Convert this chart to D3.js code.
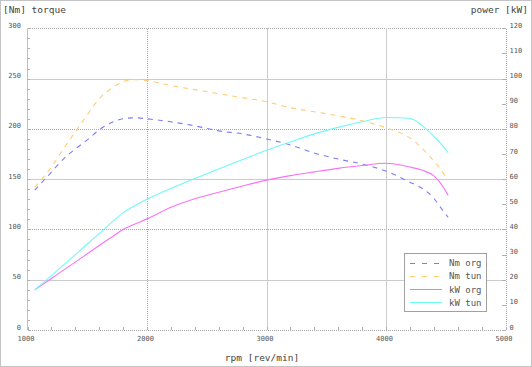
<!DOCTYPE html>
<html><head><meta charset="utf-8">
<script src="https://cdn.jsdelivr.net/npm/d3@7"></script>
<style>
html,body{margin:0;padding:0;background:#fff;}
svg{display:block;}
text{font-family:"DejaVu Sans Mono",monospace;}
</style></head>
<body><svg id="c" width="532" height="367"></svg>
<script>
// ---- data ----
const rpm    = [1060,1200,1300,1400,1500,1600,1700,1800,1900,2000,2200,2400,2600,2800,3000,3200,3400,3600,3800,4000,4200,4300,4400,4450,4520];
const nmOrg  = [139,157,170,180,189,199,206,210,211,210,207,203,198,195,190,184,176,170,165,158,147,141,131,123,112];
const nmTun  = [142,162,180,197,214,230,240,247,249,248,243,239,235,231,227,221,217,213,208,201,191,181,168,161,149];
const kwOrg  = [15.9,20.5,23.8,27.0,30.3,33.6,36.8,40.0,42.2,44.2,48.8,52.2,54.8,57.3,59.6,61.4,62.9,64.3,65.4,66.3,64.8,63.6,61.3,58.8,53.6];
const kwTun  = [15.9,21.6,25.8,29.9,34.2,38.3,42.6,46.6,49.5,52.0,56.3,60.3,64.0,67.8,71.5,74.8,78.0,80.6,82.8,84.5,84.2,81.4,77.0,74.6,70.5];
const xTicks = [1000,2000,3000,4000,5000];
const yLTicks = [0,50,100,150,200,250,300];
const yRTicks = [0,10,20,30,40,50,60,70,80,90,100,110,120];
const seriesNames = ["Nm org","Nm tun","kW org","kW tun"];

const svg = d3.select("#c");
const x  = d3.scaleLinear().domain([1000,5000]).range([27.5,505.5]);
const yL = d3.scaleLinear().domain([0,300]).range([330,28.3]);
const yR = d3.scaleLinear().domain([0,120]).range([330,28.3]);

// outer border
svg.append("rect").attr("x",0.5).attr("y",0.5).attr("width",531).attr("height",366)
  .attr("fill","#fff").attr("stroke","#c4c4c4");

const g = svg.append("g").attr("shape-rendering","crispEdges");
// horizontal grid
const solidH = [50,150,250];
const dottedH = [0,100,200,300];
g.selectAll(".hs").data(solidH).join("line")
  .attr("x1",x(1000)).attr("x2",x(5000)).attr("y1",d=>Math.round(yL(d))+0.5).attr("y2",d=>Math.round(yL(d))+0.5)
  .attr("stroke","#cccccc");
g.selectAll(".hd").data(dottedH).join("line")
  .attr("x1",x(1000)).attr("x2",x(5000)).attr("y1",d=>Math.round(yL(d))+0.5).attr("y2",d=>Math.round(yL(d))+0.5)
  .attr("stroke","#a8a8a8").attr("stroke-dasharray","1,1");
// vertical grid
g.selectAll(".vs").data([3000,4000]).join("line")
  .attr("y1",yL(0)).attr("y2",yL(300)).attr("x1",d=>Math.round(x(d))+0.5).attr("x2",d=>Math.round(x(d))+0.5)
  .attr("stroke","#cccccc");
g.selectAll(".vd").data([2000,5000]).join("line")
  .attr("y1",yL(0)).attr("y2",yL(300)).attr("x1",d=>Math.round(x(d))+0.5).attr("x2",d=>Math.round(x(d))+0.5)
  .attr("stroke","#a8a8a8").attr("stroke-dasharray","1,1");
// left axis line
g.append("line").attr("x1",27.5).attr("x2",27.5).attr("y1",yL(0)).attr("y2",yL(300)).attr("stroke","#c0c0c0").attr("stroke-width",1);

// minor ticks left
g.selectAll(".lt").data(d3.range(0,301,10)).join("line")
  .attr("x1",27.5).attr("x2",30).attr("y1",d=>Math.round(yL(d))+0.5).attr("y2",d=>Math.round(yL(d))+0.5).attr("stroke","#b0b0b0");
// minor ticks bottom
g.selectAll(".bt").data(d3.range(1000,5001,200)).join("line")
  .attr("y1",330).attr("y2",327).attr("x1",d=>Math.round(x(d))+0.5).attr("x2",d=>Math.round(x(d))+0.5).attr("stroke","#b0b0b0");
// right ticks
g.selectAll(".rt").data(yRTicks).join("line")
  .attr("x1",502).attr("x2",505.5).attr("y1",d=>Math.round(yR(d))+0.5).attr("y2",d=>Math.round(yR(d))+0.5).attr("stroke","#b0b0b0");

// tick labels
const tl = svg.append("g").attr("font-size","7px").attr("fill","#555");
tl.selectAll(".xl").data(xTicks).join("text")
  .attr("x",d=>x(d)-1.5).attr("y",341).attr("text-anchor","middle").text(d=>d);
tl.selectAll(".yl").data(yLTicks).join("text")
  .attr("x",21).attr("y",d=>yL(d)-0.5).attr("text-anchor","end").text(d=>d);
tl.selectAll(".yr").data(yRTicks).join("text")
  .attr("x",509.5).attr("y",d=>yR(d)-0.5).attr("text-anchor","start").text(d=>d);

// axis titles
const at = svg.append("g").attr("font-size","9.5px").attr("fill","#444");
at.append("text").attr("x",3).attr("y",13).text("[Nm] torque");
at.append("text").attr("x",528).attr("y",13).attr("text-anchor","end").text("power [kW]");
at.append("text").attr("x",262).attr("y",361).attr("text-anchor","middle").text("rpm [rev/min]");

// series
const series = [
  {name:seriesNames[0], vals:nmOrg, y:yL, color:"#7c7cf6", dash:"5,5"},
  {name:seriesNames[1], vals:nmTun, y:yL, color:"#ffcc77", dash:"5,5"},
  {name:seriesNames[2], vals:kwOrg, y:yR, color:"#f870f8", dash:null},
  {name:seriesNames[3], vals:kwTun, y:yR, color:"#70f8f8", dash:null}
];
const pg = svg.append("g");
series.forEach(s=>{
  const line = d3.line().x((d,i)=>x(rpm[i])).y(d=>s.y(d)).curve(d3.curveMonotoneX);
  pg.append("path").datum(s.vals).attr("d",line).attr("fill","none")
    .attr("stroke",s.color).attr("stroke-width",1.1)
    .attr("stroke-dasharray",s.dash);
});

// legend
const lg = svg.append("g");
lg.append("rect").attr("x",404.5).attr("y",253.5).attr("width",82).attr("height",58)
  .attr("fill","#fff").attr("stroke","#a0a0a0").attr("shape-rendering","crispEdges");
series.forEach((s,i)=>{
  const yy = 262.5 + i*13.3;
  lg.append("line").attr("x1",410).attr("x2",442).attr("y1",Math.round(yy)+0.5).attr("y2",Math.round(yy)+0.5)
    .attr("stroke",s.color).attr("stroke-width",1).attr("stroke-dasharray",s.dash ? "5,7" : null)
    .attr("shape-rendering","crispEdges");
  lg.append("text").attr("x",449).attr("y",yy+3.5).attr("font-size","9px").attr("fill","#555").text(s.name);
});
</script></body></html>
